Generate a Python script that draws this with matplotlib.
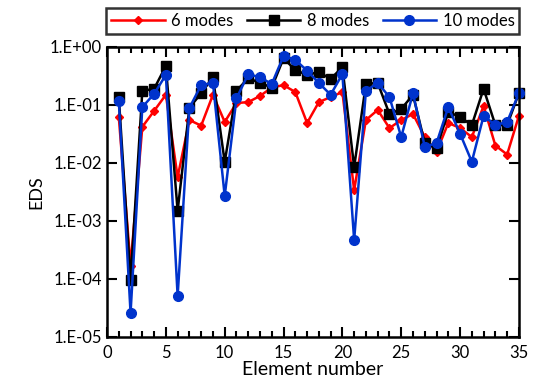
import numpy as np
import matplotlib.pyplot as plt
from matplotlib.ticker import FixedLocator, MultipleLocator, FuncFormatter

plt.rcParams['font.family'] = ['Lato', 'DejaVu Sans']

# element numbers 1..35
elements = list(range(1, 36))

eds_6 = [0.062, 1.7e-4, 0.042, 0.079, 0.15, 0.0057, 0.055, 0.044, 0.15, 0.051,
         0.108, 0.112, 0.143, 0.2, 0.22, 0.167, 0.049, 0.112, 0.137, 0.167,
         0.0034, 0.055, 0.082, 0.04, 0.055, 0.07, 0.028, 0.0155, 0.049, 0.04,
         0.028, 0.096, 0.02, 0.014, 0.065]

eds_8 = [0.137, 9.5e-5, 0.175, 0.19, 0.47, 0.0015, 0.089, 0.16, 0.30, 0.0104,
         0.175, 0.29, 0.24, 0.2, 0.64, 0.40, 0.33, 0.37, 0.28, 0.45,
         0.0085, 0.23, 0.24, 0.07, 0.085, 0.15, 0.022, 0.018, 0.076, 0.062,
         0.045, 0.19, 0.045, 0.045, 0.16]

eds_10 = [0.117, 2.6e-5, 0.092, 0.155, 0.33, 5.1e-5, 0.089, 0.22, 0.24, 0.0027,
          0.13, 0.34, 0.30, 0.23, 0.70, 0.60, 0.39, 0.24, 0.15, 0.34,
          4.7e-4, 0.175, 0.24, 0.137, 0.028, 0.16, 0.019, 0.022, 0.092, 0.032,
          0.0105, 0.065, 0.045, 0.051, 0.16]

fig = plt.figure(figsize=(5.37, 3.85), dpi=100)
ax = fig.add_axes([0.1993, 0.1247, 0.767, 0.7533])

ax.plot(elements, eds_6, color='#ff0000', marker='D', markersize=4.5, lw=1.8,
        label='6 modes', clip_on=False)
ax.plot(elements, eds_8, color='black', marker='s', markersize=7, lw=1.8,
        label='8 modes', clip_on=False)
ax.plot(elements, eds_10, color='#0033cc', marker='o', markersize=7, lw=1.8,
        label='10 modes', clip_on=False)

ax.set_yscale('log')
ax.set_ylim(1e-5, 1)
ax.set_xlim(0, 35)
ax.yaxis.set_major_locator(FixedLocator([1e-5, 1e-4, 1e-3, 1e-2, 1e-1, 1]))
ax.yaxis.set_minor_locator(FixedLocator([]))
ax.yaxis.set_major_formatter(FuncFormatter(lambda v, p: '1.E%+03d' % int(round(np.log10(v)))))
ax.xaxis.set_major_locator(MultipleLocator(5))
ax.xaxis.set_minor_locator(MultipleLocator(1))

ax.tick_params(which='both', direction='in', top=True, right=True, labelsize=12, width=1.5)
ax.tick_params(which='major', length=7)
ax.tick_params(which='minor', length=4)
ax.tick_params(axis='x', pad=6)
for s in ax.spines.values():
    s.set_linewidth(1.8)

ax.set_xlabel('Element number', fontsize=14, labelpad=0)
ax.set_ylabel('EDS', fontsize=13, labelpad=4)

leg = ax.legend(loc='lower center', bbox_to_anchor=(0.5, 1.045), ncol=3, fontsize=12,
                frameon=True, fancybox=False, edgecolor='black', borderpad=0.3,
                handlelength=3.2, columnspacing=0.8, handletextpad=0.4, borderaxespad=0)
leg.get_frame().set_linewidth(1.8)

fig.savefig('out.png', dpi=100)
